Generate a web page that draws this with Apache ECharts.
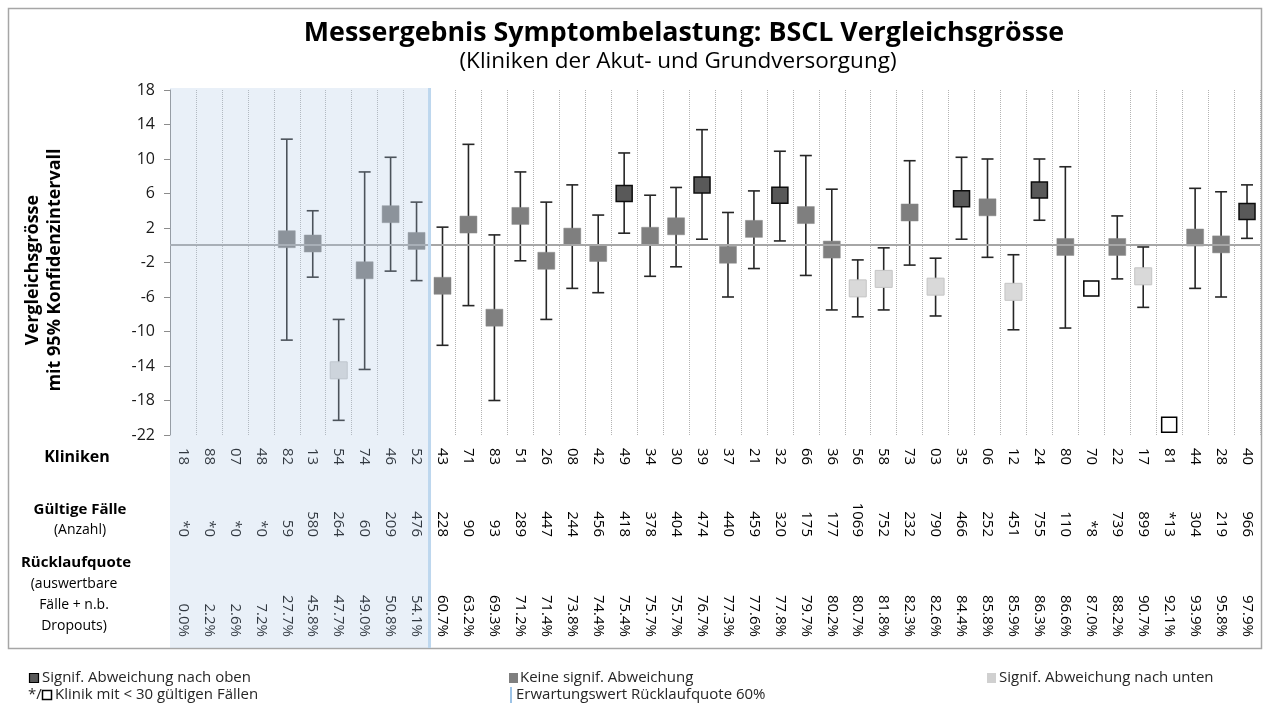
<!DOCTYPE html>
<html><head><meta charset="utf-8">
<script src="https://cdn.jsdelivr.net/npm/echarts@6/dist/echarts.min.js"></script>
<style>html,body{margin:0;padding:0;background:#fff}#c{width:1263px;height:709px}</style>
</head><body><div id="c"></div>
<script>
// ---- DATA ----
const kliniken = ['18','88','07','48','82','13','54','74','46','52','43','71','83','51','26','08','42','49','34','30','39','37','21','32','66','36','56','58','73','03','35','06','12','24','80','70','22','17','81','44','28','40'];
const faelle = ['*0','*0','*0','*0','59','580','264','60','209','476','228','90','93','289','447','244','456','418','378','404','474','440','459','320','175','177','1069','752','232','790','466','252','451','755','110','*8','739','899','*13','304','219','966'];
const quote = ['0.0%','2.2%','2.6%','7.2%','27.7%','45.8%','47.7%','49.0%','50.8%','54.1%','60.7%','63.2%','69.3%','71.2%','71.4%','73.8%','74.4%','75.4%','75.7%','75.7%','76.7%','77.3%','77.6%','77.8%','79.7%','80.2%','80.7%','81.8%','82.3%','82.6%','84.4%','85.8%','85.9%','86.3%','86.6%','87.0%','88.2%','90.7%','92.1%','93.9%','95.8%','97.9%'];
const wert  = [null,null,null,null,0.7,0.2,-14.5,-2.9,3.6,0.5,-4.7,2.4,-8.4,3.4,-1.8,1.0,-0.9,6.0,1.1,2.2,7.0,-1.1,1.9,5.8,3.5,-0.5,-5.0,-3.9,3.8,-4.8,5.4,4.4,-5.4,6.4,-0.2,-5.0,-0.2,-3.6,-20.8,0.9,0.1,3.9];
const unten = [null,null,null,null,-11.0,-3.7,-20.3,-14.4,-3.0,-4.1,-11.6,-7.0,-18.0,-1.8,-8.6,-5.0,-5.5,1.4,-3.6,-2.5,0.7,-6.0,-2.7,0.5,-3.5,-7.5,-8.3,-7.5,-2.3,-8.2,0.7,-1.4,-9.8,2.9,-9.6,null,-3.9,-7.2,null,-5.0,-6.0,0.8];
const oben  = [null,null,null,null,12.3,4.0,-8.6,8.5,10.2,5.0,2.1,11.7,1.2,8.5,5.0,7.0,3.5,10.7,5.8,6.7,13.4,3.8,6.3,10.9,10.4,6.5,-1.7,-0.3,9.8,-1.5,10.2,10.0,-1.1,10.0,9.1,null,3.4,-0.2,null,6.6,6.2,7.0];
// group: o = signif. nach oben, k = keine signif. Abw., u = signif. nach unten, n = < 30 Fälle
const gruppe = [null,null,null,null,'k','k','u','k','k','k','k','k','k','k','k','k','k','o','k','k','o','k','k','o','k','k','u','u','k','u','o','k','u','o','k','n','k','u','n','k','k','o'];
const yTicks = {min:-22, max:18, interval:4};
const erwartung = 60; // Erwartungswert Rücklaufquote in %

// ---- BUILD ----
const FONT = '"Open Sans", "Noto Sans", sans-serif';
function pts(g){ const a=[]; wert.forEach((v,i)=>{ if(v!==null && gruppe[i]===g) a.push([i,v]); }); return a; }
const errData = []; wert.forEach((v,i)=>{ if(unten[i]!==null && oben[i]!==null) errData.push([i,unten[i],oben[i]]); });
const lowIdx = quote.map((q,i)=>parseFloat(q)<erwartung?i:-1).filter(i=>i>=0);
const bandData = [[Math.min(...lowIdx), Math.max(...lowIdx)]];

const chart = echarts.init(document.getElementById('c'), null, {renderer:'canvas'});
const labelBase = {interval:0, rotate:-90, fontSize:15, color:'#000', fontFamily:FONT};
const LEG = '15px '+FONT;
const option = {
  animation:false,
  grid:{left:170, right:3, top:90, bottom:274, outerBoundsMode:'none', containLabel:false},
  xAxis:[
    {type:'category', data:kliniken, position:'bottom', axisLine:{show:false}, axisTick:{show:false},
     splitLine:{show:true, interval:0, lineStyle:{type:'dotted', color:'#b3b3b3', width:1}},
     axisLabel:Object.assign({}, labelBase, {margin:13, align:'left', verticalAlign:'middle'})},
    {type:'category', data:faelle, position:'bottom', axisLine:{show:false}, axisTick:{show:false}, splitLine:{show:false},
     axisLabel:Object.assign({}, labelBase, {margin:102, align:'right', verticalAlign:'middle'})},
    {type:'category', data:quote, position:'bottom', axisLine:{show:false}, axisTick:{show:false}, splitLine:{show:false},
     axisLabel:Object.assign({}, labelBase, {margin:202, align:'right', verticalAlign:'middle'})}
  ],
  yAxis:{type:'value', min:yTicks.min, max:yTicks.max, interval:yTicks.interval,
    axisLine:{show:true, lineStyle:{color:'#8c8c8c', width:1}},
    axisTick:{show:true, length:6, lineStyle:{color:'#8c8c8c'}},
    splitLine:{show:false},
    axisLabel:{fontSize:16, color:'#1a1a1a', margin:15, fontFamily:FONT}},
  series:[
    {type:'custom', name:'KI', z:3, data:errData, clip:false,
     renderItem:function(params, api){
       const x=api.value(0), lo=api.coord([x, api.value(1)]), hi=api.coord([x, api.value(2)]);
       const hw=6, st={stroke:'#262626', lineWidth:1.6};
       return {type:'group', children:[
         {type:'line', shape:{x1:lo[0],y1:lo[1],x2:hi[0],y2:hi[1]}, style:st},
         {type:'line', shape:{x1:lo[0]-hw,y1:lo[1],x2:lo[0]+hw,y2:lo[1]}, style:st},
         {type:'line', shape:{x1:hi[0]-hw,y1:hi[1],x2:hi[0]+hw,y2:hi[1]}, style:st}
       ]};
     },
     markLine:{silent:true, symbol:['none','none'], label:{show:false},
       lineStyle:{color:'#a6a6a6', width:2, type:'solid'}, data:[{yAxis:0}]}
    },
    {type:'scatter', name:'Keine signif. Abweichung', z:4, symbol:'rect', symbolSize:17, data:pts('k'),
     itemStyle:{color:'#7f7f7f', borderColor:'#8a8a8a', borderWidth:0.5, opacity:1}},
    {type:'scatter', name:'Signif. Abweichung nach oben', z:4, symbol:'rect', symbolSize:16, data:pts('o'),
     itemStyle:{color:'#595959', borderColor:'#0d0d0d', borderWidth:1.5, opacity:1}},
    {type:'scatter', name:'Signif. Abweichung nach unten', z:4, symbol:'rect', symbolSize:17, data:pts('u'),
     itemStyle:{color:'#d9d9d9', borderColor:'#c4c4c4', borderWidth:1, opacity:1}},
    {type:'scatter', name:'Klinik mit < 30 gültigen Fällen', z:4, symbol:'rect', symbolSize:15, data:pts('n'),
     itemStyle:{color:'#ffffff', borderColor:'#000000', borderWidth:1.5, opacity:1}},
    {type:'custom', name:'band', z:6, data:bandData, clip:false, silent:true,
     renderItem:function(params, api){
       const cs=params.coordSys; const w=api.size([1,0])[0];
       const a=api.coord([api.value(0), yTicks.max]); const b=api.coord([api.value(1), yTicks.max]);
       const x0=a[0]-w/2, x1=b[0]+w/2, y0=cs.y-2, y1=cs.y+cs.height+213;
       return {type:'group', children:[
         {type:'rect', shape:{x:x0, y:y0, width:x1-x0, height:y1-y0}, style:{fill:'rgba(175,200,229,0.28)'}},
         {type:'line', shape:{x1:x1, y1:y0, x2:x1, y2:y1}, style:{stroke:'#bdd7ee', lineWidth:3}}
       ]};
     }}
  ],
  graphic:[
    {type:'rect', z:-10, shape:{x:8.5, y:8.5, width:1253, height:640}, style:{fill:null, stroke:'#a6a6a6', lineWidth:1.5}},
    {type:'text', x:684, y:33, style:{text:'Messergebnis Symptombelastung: BSCL Vergleichsgrösse', font:'bold 26.8px '+FONT, fill:'#000', textAlign:'center', textVerticalAlign:'middle'}},
    {type:'text', x:678, y:62, style:{text:'(Kliniken der Akut- und Grundversorgung)', font:'22.5px '+FONT, fill:'#000', textAlign:'center', textVerticalAlign:'middle'}},
    {type:'text', x:44, y:270, rotation:Math.PI/2, style:{text:'Vergleichsgrösse\nmit 95% Konfidenzintervall', font:'bold 18px '+FONT, lineHeight:22, fill:'#000', textAlign:'center', textVerticalAlign:'middle'}},
    {type:'text', x:77, y:457, style:{text:'Kliniken', font:'bold 16px '+FONT, fill:'#000', textAlign:'center', textVerticalAlign:'middle'}},
    {type:'text', x:80, y:510, style:{text:'Gültige Fälle', font:'bold 15px '+FONT, fill:'#000', textAlign:'center', textVerticalAlign:'middle'}},
    {type:'text', x:80, y:530, style:{text:'(Anzahl)', font:'14px '+FONT, fill:'#000', textAlign:'center', textVerticalAlign:'middle'}},
    {type:'text', x:76, y:563, style:{text:'Rücklaufquote', font:'bold 15px '+FONT, fill:'#000', textAlign:'center', textVerticalAlign:'middle'}},
    {type:'text', x:74, y:584, style:{text:'(auswertbare', font:'14px '+FONT, fill:'#000', textAlign:'center', textVerticalAlign:'middle'}},
    {type:'text', x:74, y:605, style:{text:'Fälle + n.b.', font:'14px '+FONT, fill:'#000', textAlign:'center', textVerticalAlign:'middle'}},
    {type:'text', x:74, y:626, style:{text:'Dropouts)', font:'14px '+FONT, fill:'#000', textAlign:'center', textVerticalAlign:'middle'}},
    // legend
    {type:'rect', shape:{x:29.5, y:673.5, width:9, height:9}, style:{fill:'#595959', stroke:'#000', lineWidth:1.2}},
    {type:'text', x:42, y:678, style:{text:'Signif. Abweichung nach oben', font:LEG, fill:'#262626', textVerticalAlign:'middle'}},
    {type:'text', x:28, y:695, style:{text:'*/', font:LEG, fill:'#262626', textVerticalAlign:'middle'}},
    {type:'rect', shape:{x:42.5, y:690.5, width:9, height:9}, style:{fill:'#fff', stroke:'#000', lineWidth:1.5}},
    {type:'text', x:55, y:695, style:{text:'Klinik mit < 30 gültigen Fällen', font:LEG, fill:'#262626', textVerticalAlign:'middle'}},
    {type:'rect', shape:{x:509, y:673, width:9, height:10}, style:{fill:'#7f7f7f'}},
    {type:'text', x:520, y:678, style:{text:'Keine signif. Abweichung', font:LEG, fill:'#262626', textVerticalAlign:'middle'}},
    {type:'rect', shape:{x:510, y:687, width:2, height:16}, style:{fill:'#9dc3e6'}},
    {type:'text', x:516, y:695, style:{text:'Erwartungswert Rücklaufquote 60%', font:LEG, fill:'#262626', textVerticalAlign:'middle'}},
    {type:'rect', shape:{x:987, y:673, width:9, height:10}, style:{fill:'#d0d0d0'}},
    {type:'text', x:999, y:678, style:{text:'Signif. Abweichung nach unten', font:LEG, fill:'#262626', textVerticalAlign:'middle'}}
  ]
};
chart.setOption(option);
</script></body></html>
